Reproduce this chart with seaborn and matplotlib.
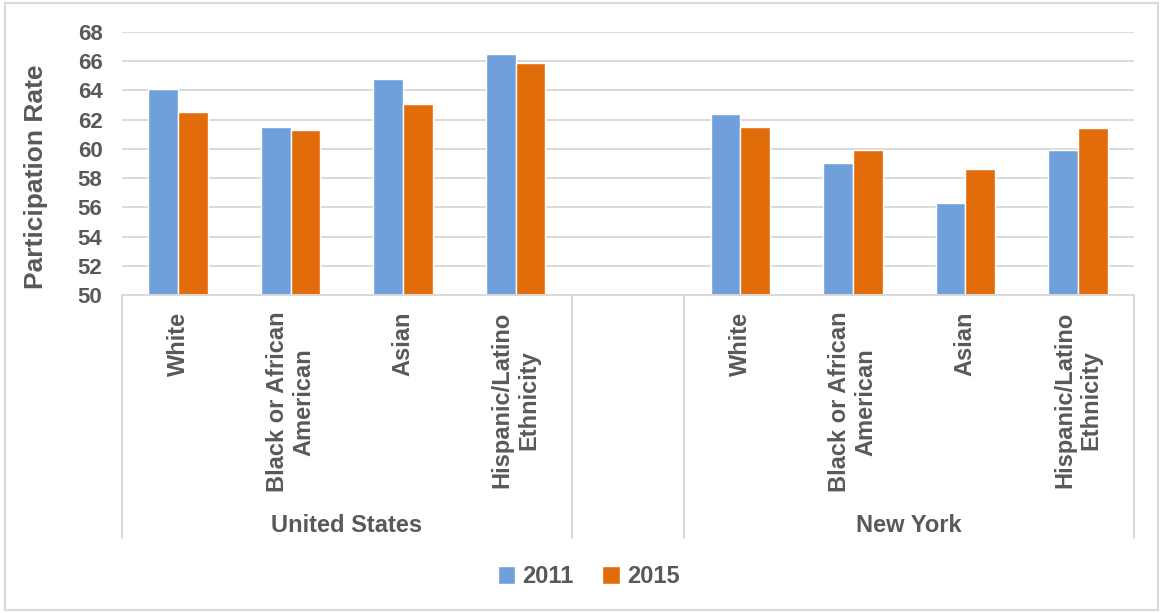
import pandas as pd
import seaborn as sns
import matplotlib.pyplot as plt
from matplotlib.patches import Patch, Rectangle

# data
groups = ["United States", "New York"]
races = ["White", "Black or African\nAmerican", "Asian", "Hispanic/Latino\nEthnicity"]
years = ["2011", "2015"]
us_2011 = [64.1, 61.5, 64.8, 66.5]
us_2015 = [62.5, 61.3, 63.1, 65.9]
ny_2011 = [62.4, 59.0, 56.3, 59.9]
ny_2015 = [61.5, 59.9, 58.6, 61.4]

blue = "#6fa0dc"
orange = "#e36c0a"
txt = "#595959"
grid = "#d9d9d9"

rows = []
for g, v11, v15 in [(groups[0], us_2011, us_2015), (groups[1], ny_2011, ny_2015)]:
    for r, a, b in zip(races, v11, v15):
        rows.append({"slot": g + "|" + r, "year": years[0], "rate": a})
        rows.append({"slot": g + "|" + r, "year": years[1], "rate": b})
df = pd.DataFrame(rows)

# empty slot between the two groups
order = [groups[0] + "|" + r for r in races] + ["gap"] + [groups[1] + "|" + r for r in races]

sns.set_theme(style="white")
plt.rcParams["font.family"] = ["Liberation Sans", "DejaVu Sans"]
plt.rcParams["font.weight"] = "bold"

fig = plt.figure(figsize=(11.63, 6.13), dpi=100)
ax = fig.add_axes([0.1049, 0.5188, 0.8702, 0.4290])

sns.barplot(data=df, x="slot", y="rate", hue="year", order=order,
            palette=[blue, orange], width=0.53, saturation=1,
            legend=False, ax=ax)

ax.set_ylim(50, 68)
ax.set_xlim(-0.5, 8.5)
ax.set_yticks(range(50, 69, 2))
ax.yaxis.grid(True, color=grid, linewidth=1.4)
ax.set_axisbelow(True)
for s in ["left", "right", "top"]:
    ax.spines[s].set_visible(False)
ax.spines["bottom"].set_color(grid)
ax.spines["bottom"].set_linewidth(1.4)
ax.tick_params(axis="both", length=0, colors=txt)
ax.tick_params(axis="y", pad=14, labelsize=16)
ax.tick_params(axis="x", pad=12, labelsize=17)

labels = [s.split("|")[1] if "|" in s else "" for s in order]
ax.set_xticks(range(len(order)))
ax.set_xticklabels(labels, rotation=90, fontweight="bold")
for t in ax.get_xticklabels():
    t.set_multialignment("center")
for t in ax.get_yticklabels():
    t.set_fontweight("bold")

ax.set_xlabel("")
ax.set_ylabel("Participation Rate", fontsize=19, fontweight="bold", color=txt)
ax.yaxis.set_label_coords(-0.073, 0.449)

# multi-level category axis: separators and group labels
tr = ax.get_xaxis_transform()
for x in [-0.5, 3.5, 4.5, 8.5]:
    ax.plot([x, x], [0, -0.924], transform=tr, color=grid, lw=1.4, clip_on=False)
ax.text(1.5, -0.875, groups[0], transform=tr, ha="center", va="center",
        fontsize=17, fontweight="bold", color=txt)
ax.text(6.5, -0.875, groups[1], transform=tr, ha="center", va="center",
        fontsize=17, fontweight="bold", color=txt)

handles = [Patch(facecolor=blue, label=years[0]), Patch(facecolor=orange, label=years[1])]
leg = fig.legend(handles=handles, loc="center", bbox_to_anchor=(0.506, 0.059), ncol=2,
                 frameon=False, handlelength=0.75, handleheight=0.75, handletextpad=0.3,
                 columnspacing=1.2, prop={"size": 17, "weight": "bold"})
for t in leg.get_texts():
    t.set_color(txt)

fig.patches.append(Rectangle((0.004, 0.005), 0.992, 0.99, transform=fig.transFigure,
                             fill=False, edgecolor=grid, linewidth=1.5))

fig.savefig("out.png", dpi=100)
